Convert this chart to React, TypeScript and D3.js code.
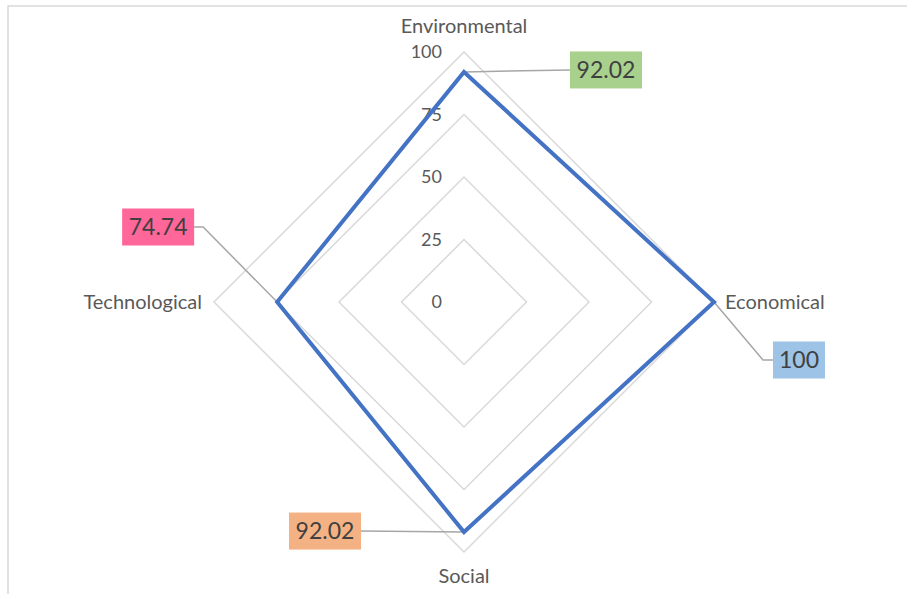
import { useRef, useEffect } from "react";
import * as d3 from "d3";

// data
const categories = ["Environmental", "Economical", "Social", "Technological"];
const values = [92.02, 100, 92.02, 74.74];
const ticks = [0, 25, 50, 75, 100];
const labelColors = ["#A9D18E", "#9DC3E6", "#F4B183", "#FF6699"];

// layout
const W = 907;
const H = 594;
const cx = 464;
const cy = 302;
const R = 250;
const font = "Lato, 'Open Sans', sans-serif";

// label boxes: [dx, dy] of box center from the data point, box width
const labelBoxes = [
  { dx: 142, dy: -2, w: 72 },
  { dx: 85, dy: 58, w: 52 },
  { dx: -139, dy: -1, w: 72 },
  { dx: -119, dy: -75, w: 72 },
];

export default function App() {
  const ref = useRef<HTMLDivElement>(null);

  useEffect(() => {
    const svg = d3.create("svg").attr("width", W).attr("height", H);

    // chart border (only top and left visible)
    svg.append("rect")
      .attr("x", 8).attr("y", 6)
      .attr("width", W + 10).attr("height", H + 10)
      .attr("fill", "white")
      .attr("stroke", "#D9D9D9")
      .attr("stroke-width", 1.5);

    const r = d3.scaleLinear().domain([0, 100]).range([0, R]);
    const angle = (i: number) => (i * 2 * Math.PI) / categories.length;

    const g = svg.append("g").attr("transform", `translate(${cx},${cy})`);

    const radial = d3.lineRadial<number>()
      .angle((_, i) => angle(i))
      .curve(d3.curveLinearClosed);

    // grid rings
    g.selectAll("path.grid")
      .data(ticks.filter(t => t > 0))
      .join("path")
      .attr("class", "grid")
      .attr("d", t => radial.radius(() => r(t))(categories.map(() => t)))
      .attr("fill", "none")
      .attr("stroke", "#D9D9D9")
      .attr("stroke-width", 1.5);

    // tick labels
    g.selectAll("text.tick")
      .data(ticks)
      .join("text")
      .attr("class", "tick")
      .attr("x", -22)
      .attr("y", t => -r(t))
      .attr("dy", "0.35em")
      .attr("text-anchor", "end")
      .attr("font-family", font)
      .attr("font-size", 18)
      .attr("fill", "#595959")
      .text(t => t);

    // category labels
    const catPos = [
      { x: 0, y: -276, anchor: "middle" },
      { x: 261, y: 0, anchor: "start" },
      { x: 0, y: 274, anchor: "middle" },
      { x: -262, y: 0, anchor: "end" },
    ];
    g.selectAll("text.cat")
      .data(categories)
      .join("text")
      .attr("class", "cat")
      .attr("x", (_, i) => catPos[i].x)
      .attr("y", (_, i) => catPos[i].y)
      .attr("dy", "0.35em")
      .attr("text-anchor", (_, i) => catPos[i].anchor)
      .attr("font-family", font)
      .attr("font-size", 20)
      .attr("fill", "#595959")
      .text(d => d);

    const pts = values.map((v, i) => {
      const a = angle(i) - Math.PI / 2;
      return [Math.cos(a) * r(v), Math.sin(a) * r(v)];
    });

    // leader lines
    const leader = (i: number) => {
      const [x, y] = pts[i];
      const b = labelBoxes[i];
      const bx = x + b.dx;
      const by = y + b.dy;
      const edge = b.dx > 0 ? bx - b.w / 2 : bx + b.w / 2;
      if (i === 1) return `M${x},${y}L${edge - 10},${by}L${edge},${by}`;
      if (i === 3) return `M${x},${y}L${edge + 9},${by}L${edge},${by}`;
      return `M${x},${y}L${edge},${by}`;
    };
    g.selectAll("path.leader")
      .data(values)
      .join("path")
      .attr("class", "leader")
      .attr("d", (_, i) => leader(i))
      .attr("fill", "none")
      .attr("stroke", "#A6A6A6")
      .attr("stroke-width", 1.5);

    // series
    g.append("path")
      .datum(values)
      .attr("d", radial.radius(d => r(d)))
      .attr("fill", "none")
      .attr("stroke", "#4472C4")
      .attr("stroke-width", 4)
      .attr("stroke-linejoin", "miter");

    // data labels
    const lbl = g.selectAll("g.lbl")
      .data(values)
      .join("g")
      .attr("class", "lbl")
      .attr("transform", (_, i) => `translate(${pts[i][0] + labelBoxes[i].dx},${pts[i][1] + labelBoxes[i].dy})`);
    lbl.append("rect")
      .attr("x", (_, i) => -labelBoxes[i].w / 2)
      .attr("y", -18.5)
      .attr("width", (_, i) => labelBoxes[i].w)
      .attr("height", 37)
      .attr("fill", (_, i) => labelColors[i]);
    lbl.append("text")
      .attr("text-anchor", "middle")
      .attr("dy", "0.36em")
      .attr("font-family", font)
      .attr("font-size", 23)
      .attr("fill", "#404040")
      .text(d => d);

    ref.current!.appendChild(svg.node()!);
    return () => svg.node()!.remove();
  }, []);

  return <div ref={ref} style={{ position: "absolute", left: 0, top: 0 }} />;
}
